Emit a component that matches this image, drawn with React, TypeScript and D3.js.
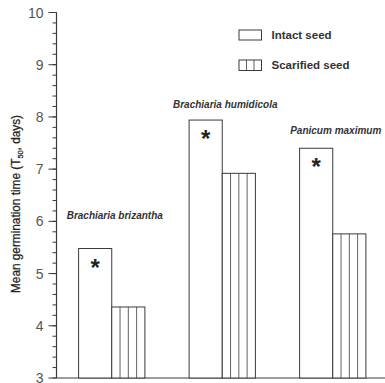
import React from "react";
import * as d3 from "d3";

const species = ["Brachiaria brizantha", "Brachiaria humidicola", "Panicum maximum"];
const intact = [5.48, 7.94, 7.4];
const scarified = [4.36, 6.92, 5.76];
const labelLevels = [6.04, 8.18, 7.68];
const yTicks = [3, 4, 5, 6, 7, 8, 9, 10];
const seriesNames = ["Intact seed", "Scarified seed"];

const W = 385;
const H = 383;

export default function App() {
  const axisX = 56.5;
  const y = d3.scaleLinear().domain([3, 10]).range([378, 12.5]);
  const x0 = d3.scaleBand<string>().domain(species).range([axisX, 388]).paddingInner(0.4).paddingOuter(0.2);
  const x1 = d3.scaleBand<string>().domain(seriesNames).range([0, x0.bandwidth()]);
  const minor = d3.range(3, 10.001, 0.2).map((v) => Math.round(v * 10) / 10);
  const bw = x1.bandwidth();
  const stroke = "#3a3a3a";

  const hatch = (x: number, top: number, bottom: number, w: number, key: string) =>
    [1, 2, 3].map((i) => (
      <line key={key + i} x1={x + (w * i) / 4} x2={x + (w * i) / 4} y1={top} y2={bottom} stroke={stroke} strokeWidth={0.8} />
    ));

  return (
    <svg width={W} height={H} style={{ position: "absolute", left: 0, top: 0, background: "#fff" }}>
      {/* y axis */}
      <line x1={axisX} x2={axisX} y1={y(10)} y2={y(3)} stroke={stroke} strokeWidth={1.2} />
      {minor.map((v) => (
        <line key={"m" + v} x1={axisX - 4} x2={axisX} y1={y(v)} y2={y(v)} stroke={stroke} strokeWidth={1} />
      ))}
      {yTicks.map((v) => (
        <g key={"t" + v}>
          <line x1={axisX - 8} x2={axisX} y1={y(v)} y2={y(v)} stroke={stroke} strokeWidth={1} />
          <text x={axisX - 13} y={y(v)} dy="0.36em" textAnchor="end" fontFamily="Liberation Sans, Arial, sans-serif" fontSize={14} fill="#555">
            {v}
          </text>
        </g>
      ))}
      {/* x axis */}
      <line x1={axisX} x2={W} y1={y(3)} y2={y(3)} stroke={stroke} strokeWidth={1.2} />

      {/* bars */}
      {species.map((s, i) => {
        const gx = x0(s)!;
        const ix = gx + x1(seriesNames[0])!;
        const sx = gx + x1(seriesNames[1])!;
        return (
          <g key={s}>
            <rect x={ix} y={y(intact[i])} width={bw} height={y(3) - y(intact[i])} fill="#fff" stroke={stroke} strokeWidth={1} />
            <rect x={sx} y={y(scarified[i])} width={bw} height={y(3) - y(scarified[i])} fill="#fff" stroke={stroke} strokeWidth={1} />
            {hatch(sx, y(scarified[i]), y(3), bw, s)}
            <text x={ix + bw / 2} y={y(intact[i]) + 27} textAnchor="middle" fontFamily="Liberation Sans, Arial, sans-serif" fontSize={24} fontWeight="bold" fill="#222">
              *
            </text>
            <text x={gx + x0.bandwidth() / 2 + 3} y={y(labelLevels[i])} textAnchor="middle" fontFamily="Liberation Sans, Arial, sans-serif" fontSize={10} fontWeight="bold" fontStyle="italic" fill="#333">
              {s}
            </text>
          </g>
        );
      })}

      {/* legend */}
      <rect x={239} y={30} width={22.5} height={10} fill="#fff" stroke={stroke} strokeWidth={1} />
      <text x={271.5} y={38.5} fontFamily="Liberation Sans, Arial, sans-serif" fontSize={11.5} fontWeight="bold" fill="#333">
        {seriesNames[0]}
      </text>
      <rect x={239} y={60} width={22.5} height={10.5} fill="#fff" stroke={stroke} strokeWidth={1} />
      {[1, 2].map((k) => (
        <line key={"lg" + k} x1={239 + (22.5 * k) / 3} x2={239 + (22.5 * k) / 3} y1={60} y2={70.5} stroke={stroke} strokeWidth={0.8} />
      ))}
      <text x={271.5} y={68.5} fontFamily="Liberation Sans, Arial, sans-serif" fontSize={11.5} fontWeight="bold" fill="#333">
        {seriesNames[1]}
      </text>

      {/* y label */}
      <text
        transform={`translate(20, ${204}) rotate(-90)`}
        textAnchor="middle"
        fontFamily="Liberation Sans Narrow, Arial Narrow, sans-serif"
        fontSize={12}
        fill="#222"
        stroke="#222"
        strokeWidth={0.25}
        textLength={178}
        lengthAdjust="spacingAndGlyphs"
      >
        Mean germination time (T<tspan fontSize={7.5} dy={3}>50</tspan><tspan dy={-3}>, days)</tspan>
      </text>
    </svg>
  );
}
